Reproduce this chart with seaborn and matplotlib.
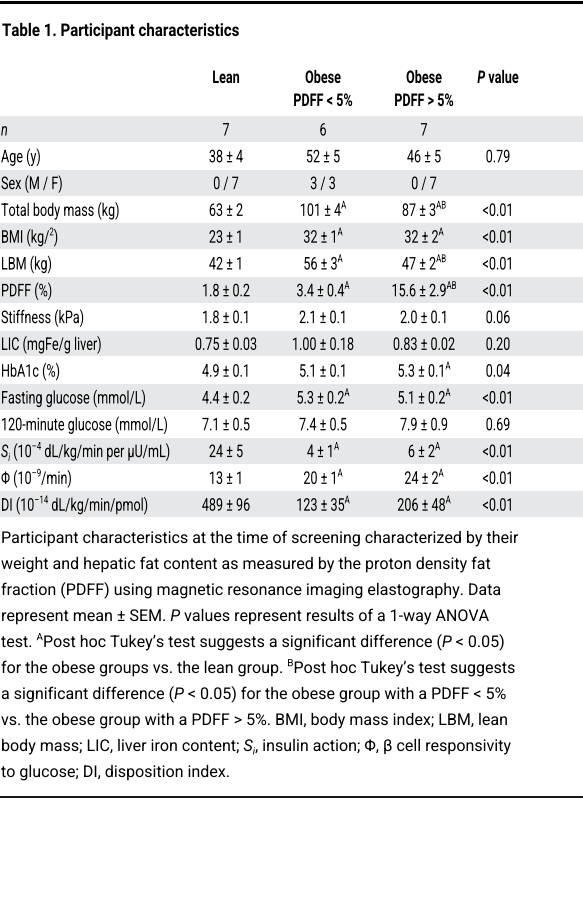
import re
import matplotlib
matplotlib.use("Agg")
import matplotlib.pyplot as plt
import seaborn as sns
from matplotlib.textpath import TextPath, text_to_path
from matplotlib.font_manager import FontProperties
from matplotlib.patches import PathPatch
from matplotlib.transforms import Affine2D

sns.set_theme(style="white")
plt.rcParams["font.family"] = ["Roboto", "DejaVu Sans"]

title = "Table 1. Participant characteristics"
col_heads = ["Lean", "Obese\nPDFF < 5%", "Obese\nPDFF > 5%", "*P* value"]
row_labels = ["*n*", "Age (y)", "Sex (M / F)", "Total body mass (kg)", "BMI (kg/^{2})",
              "LBM (kg)", "PDFF (%)", "Stiffness (kPa)", "LIC (mgFe/g liver)", "HbA1c (%)",
              "Fasting glucose (mmol/L)", "120-minute glucose (mmol/L)",
              "*S*_{*i*} (10^{–4} dL/kg/min per μU/mL)", "Φ (10^{–9}/min)",
              "DI (10^{–14} dL/kg/min/pmol)"]
lean = ["7", "38 ± 4", "0 / 7", "63 ± 2", "23 ± 1", "42 ± 1", "1.8 ± 0.2", "1.8 ± 0.1",
        "0.75 ± 0.03", "4.9 ± 0.1", "4.4 ± 0.2", "7.1 ± 0.5", "24 ± 5", "13 ± 1", "489 ± 96"]
obese_low = ["6", "52 ± 5", "3 / 3", "101 ± 4^{A}", "32 ± 1^{A}", "56 ± 3^{A}", "3.4 ± 0.4^{A}",
             "2.1 ± 0.1", "1.00 ± 0.18", "5.1 ± 0.1", "5.3 ± 0.2^{A}", "7.4 ± 0.5", "4 ± 1^{A}",
             "20 ± 1^{A}", "123 ± 35^{A}"]
obese_high = ["7", "46 ± 5", "0 / 7", "87 ± 3^{AB}", "32 ± 2^{A}", "47 ± 2^{AB}", "15.6 ± 2.9^{AB}",
              "2.0 ± 0.1", "0.83 ± 0.02", "5.3 ± 0.1^{A}", "5.1 ± 0.2^{A}", "7.9 ± 0.9", "6 ± 2^{A}",
              "24 ± 2^{A}", "206 ± 48^{A}"]
p_values = ["", "0.79", "", "<0.01", "<0.01", "<0.01", "<0.01", "0.06", "0.20", "0.04",
            "<0.01", "0.69", "<0.01", "<0.01", "<0.01"]
footnote = [
    "Participant characteristics at the time of screening characterized by their",
    "weight and hepatic fat content as measured by the proton density fat",
    "fraction (PDFF) using magnetic resonance imaging elastography. Data",
    "represent mean ± SEM. *P* values represent results of a 1-way ANOVA",
    "test. ^{A}Post hoc Tukey’s test suggests a significant difference (*P* < 0.05)",
    "for the obese groups vs. the lean group. ^{B}Post hoc Tukey’s test suggests",
    "a significant difference (*P* < 0.05) for the obese group with a PDFF < 5%",
    "vs. the obese group with a PDFF > 5%. BMI, body mass index; LBM, lean",
    "body mass; LIC, liver iron content; *S*_{*i*}, insulin action; Φ, β cell responsivity",
    "to glucose; DI, disposition index.",
]

fig = plt.figure(figsize=(5.83, 9.0), dpi=100)
ax = fig.add_axes([0, 0, 1, 1])
ax.set_xlim(0, 583)
ax.set_ylim(900, 0)
ax.axis("off")


def parse(s):
    segs = []
    for m in re.finditer(r"\^\{([^}]*)\}|_\{([^}]*)\}|([^\^_]+|[\^_])", s):
        if m.group(1) is not None:
            mode, txt = "sup", m.group(1)
        elif m.group(2) is not None:
            mode, txt = "sub", m.group(2)
        else:
            mode, txt = "n", m.group(3)
        parts = txt.split("*")
        for i, p in enumerate(parts):
            if p:
                segs.append((p, mode, i % 2 == 1))
    return segs


def draw(s, x, y, px, ha="left", weight="normal", sx=1.0):
    """Draw marked-up text as glyph paths; px = em size in pixels, sx = horizontal scale."""
    items = []
    for txt, mode, it in parse(s):
        fs = px * 0.62 if mode != "n" else px
        dy = -0.42 * px if mode == "sup" else (0.22 * px if mode == "sub" else 0)
        prop = FontProperties(family=["Roboto", "DejaVu Sans"], size=fs,
                              style="italic" if it else "normal", weight=weight)
        w = text_to_path.get_text_width_height_descent(txt, prop, ismath=False)[0] * sx
        tp = TextPath((0, 0), txt, prop=prop)
        items.append((tp, w, dy))
    total = sum(w for _, w, _ in items)
    cx = x - total / 2 if ha == "center" else x
    for tp, w, dy in items:
        tr = Affine2D().scale(sx, -1).translate(cx, y + dy) + ax.transData
        ax.add_patch(PathPatch(tp, transform=tr, facecolor="black", edgecolor="none"))
        cx += w


ax.plot([0, 583], [1.5, 1.5], color="black", lw=2.2)
draw(title, 2, 36, 17.5, weight="bold", sx=0.86)

col_x = [226, 323, 424, 498]
TS, SX = 17.5, 0.72
for cx, h in zip(col_x, col_heads):
    for k, line in enumerate(h.split("\n")):
        draw(line, cx, 83 + k * 23, TS, ha="center", weight="bold", sx=SX)

y0, pitch = 129, 26.8
for i, lab in enumerate(row_labels):
    yc = y0 + i * pitch
    if i % 2 == 0:
        ax.fill_between([0, 583], yc - pitch / 2 + 0.5, yc + pitch / 2 - 0.5,
                        color="#e6e7e8", lw=0)
    by = yc + 6.5
    draw(lab, 1, by, TS, sx=SX)
    for cx, col in zip(col_x, [lean, obese_low, obese_high, p_values]):
        if col[i]:
            draw(col[i], cx, by, TS, ha="center", sx=SX)

for k, line in enumerate(footnote):
    draw(line, 1, 543 + k * 26, 16.2, sx=0.99)

ax.plot([0, 583], [797, 797], color="black", lw=1.3)

fig.savefig("out.png", dpi=100)
